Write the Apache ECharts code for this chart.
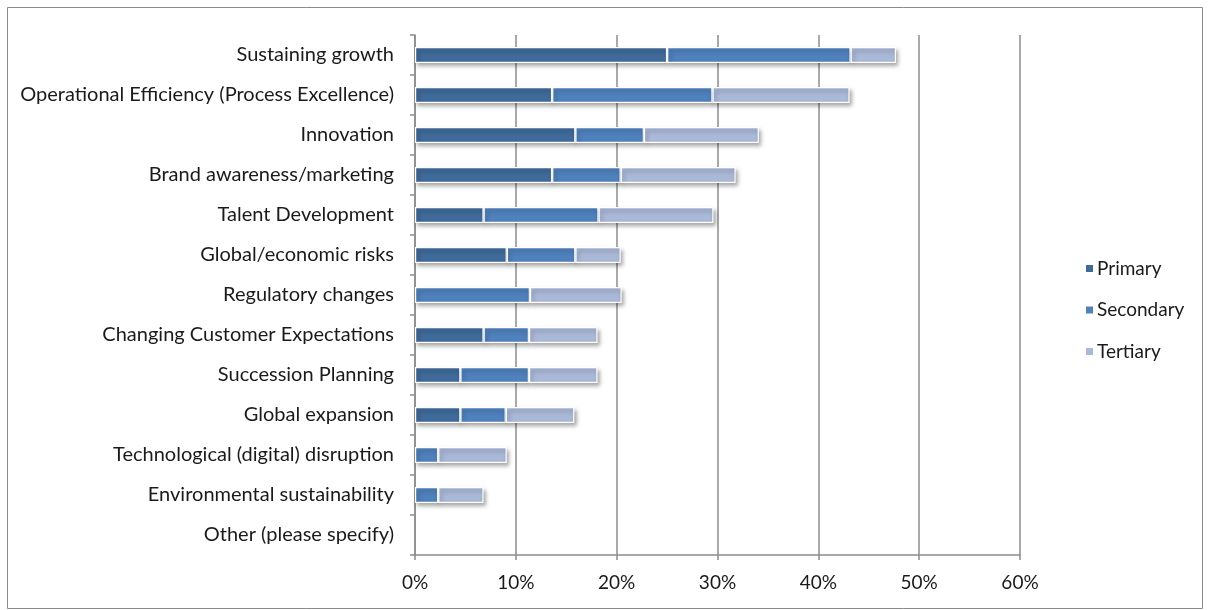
<!DOCTYPE html>
<html>
<head>
<meta charset="utf-8">
<script src="https://cdn.jsdelivr.net/npm/echarts@6/dist/echarts.min.js"></script>
<style>
  html, body { margin: 0; padding: 0; background: #fff; }
  #chart { width: 1209px; height: 610px; }
</style>
</head>
<body>
<div id="chart"></div>
<script>
// Business priorities, share of respondents (%)
const categories = [
  'Sustaining growth',
  'Operational Efficiency (Process Excellence)',
  'Innovation',
  'Brand awareness/marketing',
  'Talent Development',
  'Global/economic risks',
  'Regulatory changes',
  'Changing Customer Expectations',
  'Succession Planning',
  'Global expansion',
  'Technological (digital) disruption',
  'Environmental sustainability',
  'Other (please specify)'
];
const primary   = [25.0, 13.6, 15.9, 13.6, 6.8, 9.1, 0,    6.8, 4.5, 4.5, 0,   0,   0];
const secondary = [18.2, 15.9,  6.8,  6.8, 11.4, 6.8, 11.4, 4.5, 6.8, 4.5, 2.3, 2.3, 0];
const tertiary  = [ 4.5, 13.6, 11.4, 11.4, 11.4, 4.5, 9.1,  6.8, 6.8, 6.8, 6.8, 4.5, 0];
const xTicks = [0, 10, 20, 30, 40, 50, 60];

const seriesDefs = [
  { name: 'Primary',   values: primary,   color: '#3F6A9A' },
  { name: 'Secondary', values: secondary, color: '#4F81BD' },
  { name: 'Tertiary',  values: tertiary,  color: '#AAB9D8' }
];

const FONT = 'Lato, "Open Sans", sans-serif';
const FONT_SIZE = 20;
const GRID_COLOR = '#8c8c8c';

const chart = echarts.init(document.getElementById('chart'), null, { renderer: 'canvas' });

chart.setOption({
  animation: false,
  backgroundColor: '#ffffff',
  textStyle: { fontFamily: FONT },
  graphic: [{
    type: 'rect',
    shape: { x: 7.5, y: 7.5, width: 1195, height: 601 },
    style: { fill: 'none', stroke: '#8a8a8a', lineWidth: 1 },
    silent: true,
    z: -1
  }],
  grid: { left: 415, right: 189, top: 35, bottom: 55, containLabel: false },
  legend: {
    orient: 'vertical',
    left: 1079,
    top: 254,
    itemWidth: 9,
    itemHeight: 9,
    itemGap: 22.5,
    icon: 'rect',
    textStyle: { fontFamily: FONT, fontSize: FONT_SIZE - 1, color: '#1a1a1a', padding: [0, 0, 0, -2] },
    data: seriesDefs.map(s => s.name)
  },
  xAxis: {
    type: 'value',
    min: xTicks[0],
    max: xTicks[xTicks.length - 1],
    interval: xTicks[1] - xTicks[0],
    axisLine: { show: true, lineStyle: { color: GRID_COLOR, width: 1.5 } },
    axisTick: { show: true, length: 5, lineStyle: { color: GRID_COLOR, width: 1.5 } },
    splitLine: { show: true, lineStyle: { color: GRID_COLOR, width: 1.5 } },
    axisLabel: {
      formatter: v => v + '%',
      fontFamily: FONT, fontSize: FONT_SIZE - 1, color: '#1a1a1a', margin: 18
    }
  },
  yAxis: {
    type: 'category',
    inverse: true,
    data: categories,
    axisLine: { show: true, lineStyle: { color: GRID_COLOR, width: 1.5 } },
    axisTick: { show: true, length: 5, lineStyle: { color: GRID_COLOR, width: 1.5 } },
    axisLabel: { fontFamily: FONT, fontSize: FONT_SIZE, color: '#1a1a1a', margin: 21 }
  },
  series: seriesDefs.map(s => ({
    name: s.name,
    type: 'bar',
    stack: 'total',
    barWidth: 16,
    data: s.values.map(v => (v === 0 ? null : v)),
    itemStyle: {
      color: s.color,
      borderColor: '#ffffff',
      borderWidth: 1.2,
      shadowColor: 'rgba(0,0,0,0.35)',
      shadowBlur: 4,
      shadowOffsetX: 2,
      shadowOffsetY: 3
    }
  }))
});
</script>
</body>
</html>
